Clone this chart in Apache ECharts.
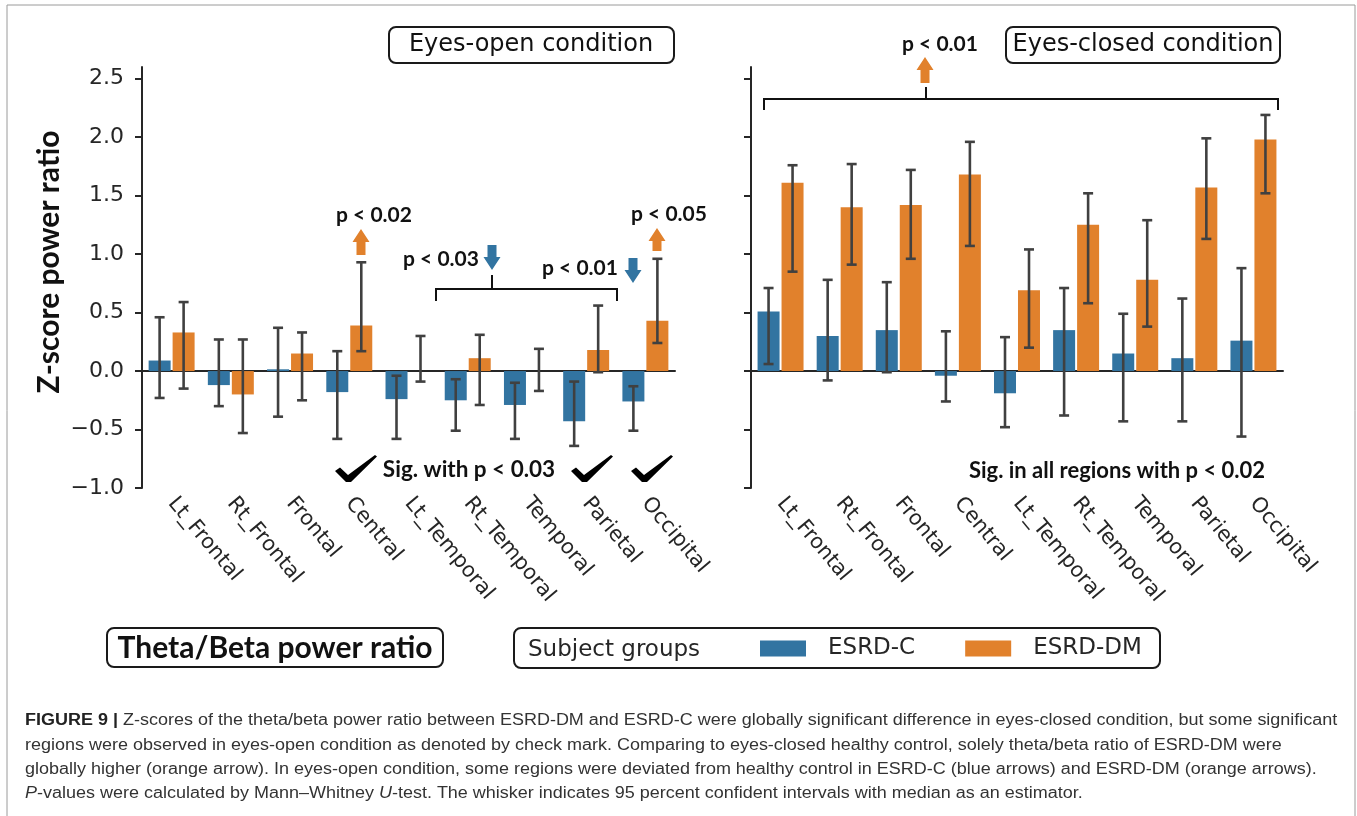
<!DOCTYPE html>
<html><head><meta charset="utf-8">
<script src="https://cdn.jsdelivr.net/npm/echarts@6/dist/echarts.min.js"></script>
<style>html,body{margin:0;padding:0;background:#fff}#c{width:1357px;height:816px}</style>
</head><body><div id="c"></div>
<script>
// ---------- data ----------
const categories = ['Lt_Frontal','Rt_Frontal','Frontal','Central','Lt_Temporal','Rt_Temporal','Temporal','Parietal','Occipital'];
const yTicks = [-1.0,-0.5,0.0,0.5,1.0,1.5,2.0,2.5];
const yMin = -1.0, yMax = 2.6;
const groups = ['ESRD-C','ESRD-DM'];
// eyes-open condition
const openC      = [0.09,-0.12,0.015,-0.18,-0.24,-0.25,-0.29,-0.43,-0.26];
const openCLow   = [-0.23,-0.30,-0.39,-0.58,-0.58,-0.51,-0.58,-0.64,-0.51];
const openCHigh  = [0.46,0.27,0.37,0.17,-0.04,-0.07,-0.10,-0.09,-0.13];
const openDM     = [0.33,-0.20,0.15,0.39,0.0,0.11,0.0,0.18,0.43];
const openDMLow  = [-0.15,-0.53,-0.25,0.17,-0.09,-0.29,-0.17,-0.01,0.24];
const openDMHigh = [0.59,0.27,0.33,0.93,0.30,0.31,0.19,0.56,0.96];
// eyes-closed condition
const closedC      = [0.51,0.30,0.35,-0.04,-0.19,0.35,0.15,0.11,0.26];
const closedCLow   = [0.06,-0.08,-0.01,-0.26,-0.48,-0.38,-0.43,-0.43,-0.56];
const closedCHigh  = [0.71,0.78,0.76,0.34,0.29,0.71,0.49,0.62,0.88];
const closedDM     = [1.61,1.40,1.42,1.68,0.69,1.25,0.78,1.57,1.98];
const closedDMLow  = [0.85,0.91,0.96,1.07,0.20,0.58,0.38,1.13,1.52];
const closedDMHigh = [1.76,1.77,1.72,1.96,1.04,1.52,1.29,1.99,2.19];

const captionLines = [
  'FIGURE 9 | Z-scores of the theta/beta power ratio between ESRD-DM and ESRD-C were globally significant difference in eyes-closed condition, but some significant',
  'regions were observed in eyes-open condition as denoted by check mark. Comparing to eyes-closed healthy control, solely theta/beta ratio of ESRD-DM were',
  'globally higher (orange arrow). In eyes-open condition, some regions were deviated from healthy control in ESRD-C (blue arrows) and ESRD-DM (orange arrows).',
  'P-values were calculated by Mann\u2013Whitney U-test. The whisker indicates 95 percent confident intervals with median as an estimator.'
];
const captionRich = [
  '{b|FIGURE 9 |} Z-scores of the theta/beta power ratio between ESRD-DM and ESRD-C were globally significant difference in eyes-closed condition, but some significant',
  captionLines[1],
  captionLines[2],
  '{i|P}-values were calculated by Mann\u2013Whitney {i|U}-test. The whisker indicates 95 percent confident intervals with median as an estimator.'
];

// ---------- style ----------
const BLUE = '#3274a1', ORANGE = '#e1812c', ERR = '#404040', AX = '#262626';
const SANS = '"DejaVu Sans", "Liberation Sans", sans-serif';
const BOLD = 'Lato, "Open Sans", sans-serif';

const chart = echarts.init(document.getElementById('c'), null, {renderer:'canvas'});

function xAxis(gi){
  return {type:'category', gridIndex:gi, data:categories,
    axisLine:{lineStyle:{color:AX,width:2}},
    axisTick:{alignWithLabel:true, length:7, lineStyle:{color:AX,width:2}},
    axisLabel:{rotate:-50, margin:12, fontFamily:SANS, fontSize:21, color:AX, interval:0}};
}
function yAxis(gi, labels){
  return {type:'value', gridIndex:gi, min:yMin, max:yMax, splitLine:{show:false},
    axisLine:{show:true, lineStyle:{color:AX,width:2}},
    axisTick:{show:true, length:7, lineStyle:{color:AX,width:2}, customValues:yTicks},
    axisLabel:{show:labels, customValues:yTicks, margin:18, fontFamily:SANS, fontSize:22, color:AX,
      formatter:v=>Number(v).toFixed(1).replace('-','\u2212')}};
}
function bars(name, data, color, gi){
  return {type:'bar', name, xAxisIndex:gi, yAxisIndex:gi, data, barWidth:22, barGap:'9%',
    itemStyle:{color}, emphasis:{disabled:true}, z:2};
}
function errs(low, high, gi, offset){
  return {type:'custom', xAxisIndex:gi, yAxisIndex:gi, z:5, silent:true,
    data: low.map((l,i)=>[i,l,high[i]]),
    encode:{x:0, y:[1,2]},
    renderItem:(params, api)=>{
      const hi = api.coord([api.value(0), api.value(2)]);
      const lo = api.coord([api.value(0), api.value(1)]);
      const x = hi[0] + offset, c = 5;
      const st = {stroke:ERR, lineWidth:2.6};
      return {type:'group', children:[
        {type:'line', shape:{x1:x,y1:hi[1],x2:x,y2:lo[1]}, style:st},
        {type:'line', shape:{x1:x-c,y1:hi[1],x2:x+c,y2:hi[1]}, style:st},
        {type:'line', shape:{x1:x-c,y1:lo[1],x2:x+c,y2:lo[1]}, style:st}
      ]};
    }};
}

// ---------- annotation helpers ----------
function txt(x, y, text, size, font, weight, opts){
  return Object.assign({type:'text', x, y, z:20,
    style:{text, fontSize:size, fontFamily:font, fontWeight:weight||'normal', fill:'#111',
      align:'center', verticalAlign:'middle'}}, opts||{});
}
function box(x, y, w, h, fill){
  return {type:'rect', z:10, shape:{x, y, width:w, height:h, r:7},
    style:{fill:fill === undefined ? '#fff' : fill, stroke:'#1a1a1a', lineWidth:2}};
}
function arrow(cx, tipY, baseY, color){
  const d = tipY < baseY ? 1 : -1, hw = 8.5, sw = 4.5, hh = 13;
  const n = tipY + d*hh;
  return {type:'polygon', z:20, shape:{points:[[cx,tipY],[cx+hw,n],[cx+sw,n],[cx+sw,baseY],[cx-sw,baseY],[cx-sw,n],[cx-hw,n]]},
    style:{fill:color}};
}
function bracket(x1, x2, y, drop, cx, stemTop){
  const st = {stroke:'#111', lineWidth:2, fill:null};
  return [
    {type:'polyline', z:20, shape:{points:[[x1,y+drop],[x1,y],[x2,y],[x2,y+drop]]}, style:st},
    {type:'line', z:20, shape:{x1:cx,y1:stemTop,x2:cx,y2:y}, style:st}
  ];
}
function check(x0, y0){
  const p = [[0,16],[5,12.5],[13,20],[40,0],[42,1.5],[16,27],[11,27]];
  return {type:'polygon', z:20, shape:{points:p.map(q=>[x0+q[0], y0+q[1]])}, style:{fill:'#000'}};
}

// caption width fitting
const ctx = document.createElement('canvas').getContext('2d');
const CAPFONT = '"Liberation Sans Narrow", "Liberation Sans", Arial, sans-serif';
ctx.font = '16px ' + CAPFONT;
const capScale = 1312 / ctx.measureText(captionLines[0]).width;

const graphic = [
  // figure frame
  {type:'polyline', z:1, shape:{points:[[7,816],[7,5],[1355,5],[1355,816]]}, style:{stroke:'#9a9a9a', lineWidth:1, fill:null}},
  // panel titles
  box(389, 27, 285, 36), txt(531, 45, 'Eyes-open condition', 24, SANS),
  box(1006, 27, 274, 36), txt(1143, 45, 'Eyes-closed condition', 24, SANS),
  // y-axis name
  txt(49, 262, 'Z-score power ratio', 30, BOLD, 'bold', {rotation:Math.PI/2}),
  // eyes-closed global annotation
  txt(940, 44, 'p < 0.01', 21, BOLD, 'bold'),
  arrow(925, 57, 83, ORANGE),
  ...bracket(764, 1278, 99, 11, 926, 87),
  // eyes-open annotations
  txt(374, 215, 'p < 0.02', 21, BOLD, 'bold'),
  arrow(361, 229, 255, ORANGE),
  txt(441, 259, 'p < 0.03', 21, BOLD, 'bold'),
  arrow(492, 270, 245, BLUE),
  ...bracket(436, 617, 289, 12, 492, 275),
  txt(580, 268, 'p < 0.01', 21, BOLD, 'bold'),
  arrow(633, 283, 258, BLUE),
  txt(669, 214, 'p < 0.05', 21, BOLD, 'bold'),
  arrow(657, 228, 251, ORANGE),
  check(335, 455), check(571, 455), check(631, 455),
  txt(469, 470, 'Sig. with p < 0.03', 22.5, BOLD, 'bold'),
  txt(1117, 471, 'Sig. in all regions with p < 0.02', 22, BOLD, 'bold'),
  // bottom boxes
  box(107, 628, 336, 39), txt(275, 648, 'Theta/Beta power ratio', 30, BOLD, 'bold'),
  box(514, 628, 646, 40, 'transparent'),
  {type:'text', x:528, y:650, z:20, style:{text:'Subject groups', fontSize:23, fontFamily:SANS, fill:'#262626', align:'left', verticalAlign:'middle'}},
];
captionRich.forEach((t, i) => {
  graphic.push({type:'text', x:25, y:721 + i*24.3, z:20, scaleX:capScale, originX:0,
    style:{text:t, fontSize:16, fontFamily:CAPFONT, fill:'#333', align:'left', verticalAlign:'middle',
      rich:{b:{fontWeight:'bold', fontSize:16, fontFamily:CAPFONT, fill:'#222'},
            i:{fontStyle:'italic', fontSize:16, fontFamily:CAPFONT, fill:'#333'}}}});
});

chart.setOption({
  backgroundColor:'#fff',
  animation:false,
  grid:[{left:142, top:67, width:533, height:421}, {left:751, top:67, width:532, height:421}],
  xAxis:[xAxis(0), xAxis(1)],
  yAxis:[yAxis(0,true), yAxis(1,false)],
  legend:{data:groups, left:755, top:632, z:30, itemWidth:46, itemHeight:16, itemGap:50, icon:'rect',
    selectedMode:false, textStyle:{fontFamily:SANS, fontSize:23, color:'#262626', padding:[0,0,0,17]}},
  series:[
    bars(groups[0], openC, BLUE, 0), bars(groups[1], openDM, ORANGE, 0),
    bars(groups[0], closedC, BLUE, 1), bars(groups[1], closedDM, ORANGE, 1),
    errs(openCLow, openCHigh, 0, -12), errs(openDMLow, openDMHigh, 0, 12),
    errs(closedCLow, closedCHigh, 1, -12), errs(closedDMLow, closedDMHigh, 1, 12)
  ],
  graphic
});
</script></body></html>
